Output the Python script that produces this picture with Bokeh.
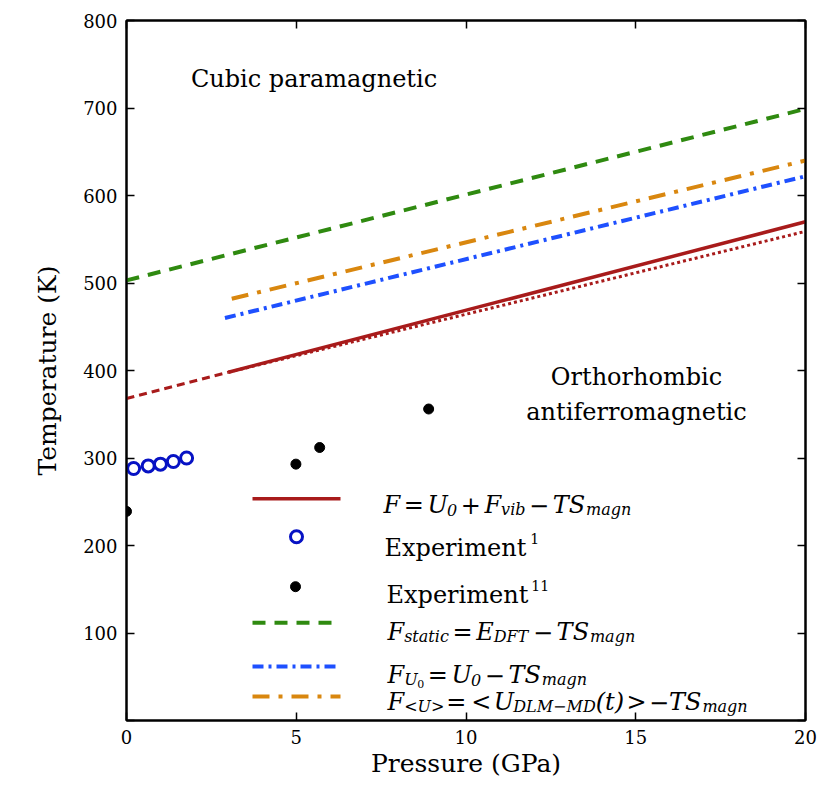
from bokeh.plotting import figure
from bokeh.models import LinearAxis, FixedTicker
from bokeh.core.properties import value
from bokeh.embed import file_html
from bokeh.resources import INLINE

# ---------------- data ----------------
x_ticks = [0, 5, 10, 15, 20]
y_ticks = [0, 100, 200, 300, 400, 500, 600, 700, 800]

# F = U0 + Fvib - TSmagn (dashed extrapolation, solid, dotted variant)
F_ext_P = [0.0, 3.0]
F_ext_T = [368, 398]
F_P = [3.0, 20.0]
F_T = [398, 570]
F_dot_P = [3.0, 20.0]
F_dot_T = [398, 559]
# F_static
Fs_P = [0.0, 20.0]
Fs_T = [503, 699]
# F_U0
FU0_P = [2.9, 20.0]
FU0_T = [460, 622]
# F_<U>
FU_P = [3.1, 20.0]
FU_T = [482, 640]
# Experiment 1 (open circles)
exp1_P = [0.21, 0.64, 1.00, 1.38, 1.77]
exp1_T = [288, 291, 293, 296, 300]
# Experiment 11 (filled dots)
exp11_P = [0.0, 4.99, 5.69, 8.90]
exp11_T = [239, 293, 312, 356]

RED = "#a81b1b"
GREEN = "#2f8a10"
BLUE = "#1e50ff"
ORANGE = "#d9870f"
CIRC = "#0712c4"
SERIF = "DejaVu Serif"

p = figure(width=821, height=780, x_range=(0, 20), y_range=(0, 800),
           output_backend="svg", toolbar_location=None,
           min_border_left=126, min_border_right=16,
           min_border_top=20, min_border_bottom=59)
p.xgrid.visible = False
p.ygrid.visible = False
p.outline_line_color = "black"
p.outline_line_width = 2
p.background_fill_color = "white"
p.border_fill_color = "white"

def style_axis(ax, ticks, show_labels=True):
    ax.ticker = FixedTicker(ticks=ticks)
    ax.major_tick_in = 8
    ax.major_tick_out = 0
    ax.minor_tick_in = 0
    ax.minor_tick_out = 0
    ax.axis_line_width = 2
    ax.axis_line_color = "black"
    ax.major_tick_line_width = 1.5
    ax.major_tick_line_color = "black"
    if show_labels:
        ax.major_label_text_font = SERIF
        ax.major_label_text_font_size = "18px"
        ax.major_label_text_color = "black"
    else:
        ax.major_label_overrides = {t: "" for t in ticks}
        ax.major_label_text_font_size = "0px"
        ax.major_label_standoff = 0

xa = p.xaxis[0]
style_axis(xa, x_ticks)
xa.major_label_standoff = 9
xa.axis_label = "Pressure (GPa)"
xa.axis_label_text_font = SERIF
xa.axis_label_text_font_size = "25px"
xa.axis_label_text_font_style = "normal"
xa.axis_label_text_color = "black"
xa.axis_label_standoff = 2

ya = p.yaxis[0]
style_axis(ya, y_ticks)
ya.major_label_overrides = {0: ""}
ya.major_label_standoff = 9
ya.axis_label = "Temperature (K)"
ya.axis_label_text_font = SERIF
ya.axis_label_text_font_size = "25px"
ya.axis_label_text_font_style = "normal"
ya.axis_label_text_color = "black"
ya.axis_label_standoff = 18

top = LinearAxis()
style_axis(top, x_ticks, show_labels=False)
p.add_layout(top, "above")
right = LinearAxis()
style_axis(right, y_ticks, show_labels=False)
p.add_layout(right, "right")

# ---------------- data lines / points ----------------
p.line(F_ext_P, F_ext_T, line_color=RED, line_width=3, line_dash="8 5")
p.line(F_dot_P, F_dot_T, line_color=RED, line_width=3, line_dash="3 3")
p.line(F_P, F_T, line_color=RED, line_width=3.5)
p.line(Fs_P, Fs_T, line_color=GREEN, line_width=4, line_dash="13 9")
p.line(FU0_P, FU0_T, line_color=BLUE, line_width=4, line_dash="11 5 3 5")
p.line(FU_P, FU_T, line_color=ORANGE, line_width=4, line_dash="17 9 4 9")
p.scatter(exp1_P, exp1_T, marker="circle", size=12, fill_color=None,
          line_color=CIRC, line_width=3)
p.scatter(exp11_P, exp11_T, marker="circle", size=10, fill_color="black",
          line_color="black")

# ---------------- annotations (layout in reference pixels) ----------------
FX0, FX1, FY0, FY1 = 126.0, 805.0, 20.0, 721.0
def dx(px):
    return (px - FX0) / (FX1 - FX0) * 20.0
def dy(py):
    return (FY1 - py) / (FY1 - FY0) * 800.0

def put(items, size, style="normal", align="left"):
    p.text(x=[dx(i[1]) for i in items], y=[dy(i[2]) for i in items],
           text=[i[0] for i in items], text_font=value(SERIF),
           text_font_size=size, text_font_style=style, text_color="black",
           text_align=align, text_baseline="alphabetic")

put([("Cubic paramagnetic", 313.5, 79)], "24px", align="center")
put([("Orthorhombic", 636, 377), ("antiferromagnetic", 636, 412)], "24px", align="center")

# legend keys
LX0, LX1 = 252, 340
p.line([dx(LX0), dx(LX1)], [dy(499)] * 2, line_color=RED, line_width=3.5)
p.scatter([dx(296)], [dy(537)], marker="circle", size=12, fill_color=None,
          line_color=CIRC, line_width=3)
p.scatter([dx(295)], [dy(587)], marker="circle", size=10, fill_color="black",
          line_color="black")
p.line([dx(LX0), dx(LX1)], [dy(623)] * 2, line_color=GREEN, line_width=4, line_dash="13 9")
p.line([dx(LX0), dx(LX1)], [dy(667)] * 2, line_color=BLUE, line_width=4, line_dash="11 5 3 5")
p.line([dx(LX0), dx(LX1)], [dy(697)] * 2, line_color=ORANGE, line_width=4, line_dash="17 9 4 9")

# ---- simple math typesetting for the legend labels ----
W = {"A": .722, "D": .83, "E": .73, "F": .694, "L": .664, "M": .995, "S": .685,
     "T": .703, "U": .812, "a": .596, "b": .64, "c": .56, "g": .64, "i": .32,
     "m": .948, "n": .644, "s": .513, "t": .402, "v": .565, "(": .39, ")": .39,
     "+": .838, "=": .838, "<": .838, ">": .838, "\u2212": .838, "0": .636,
     "1": .636, "x": .645, "p": .64, "e": .592, "r": .478, " ": .318}
SIZES = {"m": 24, "o": 24, "s": 16, "ss": 11}
DROP = {"m": 0, "o": 0, "s": 5, "ss": 9}

def width(txt, size):
    return sum(W.get(c, 0.6) for c in txt) * size

pieces = {"m": [], "o": [], "s": [], "ss": []}
def typeset(x0, base, tokens, opgap=0.15):
    x = x0
    for txt, kind in tokens:
        size = SIZES[kind]
        if kind == "o":
            x += opgap * size
        pieces[kind].append((txt, x, base + DROP[kind]))
        x += width(txt, size)
        if kind == "o":
            x += opgap * size

typeset(383, 505, [("F", "m"), ("=", "o"), ("U", "m"), ("0", "s"), ("+", "o"),
                   ("F", "m"), ("vib", "s"), ("\u2212", "o"), ("TS", "m"), ("magn", "s")])
typeset(387, 632, [("F", "m"), ("static", "s"), ("=", "o"), ("E", "m"), ("DFT", "s"),
                   ("\u2212", "o"), ("TS", "m"), ("magn", "s")])
typeset(387, 675, [("F", "m"), ("U", "s"), ("0", "ss"), ("=", "o"), ("U", "m"), ("0", "s"),
                   ("\u2212", "o"), ("TS", "m"), ("magn", "s")])
typeset(387, 702, [("F", "m"), ("<U>", "s"), ("=", "o"), ("<", "o"), ("U", "m"),
                   ("DLM\u2212MD", "s"), ("(t)", "m"), (">", "o"), ("\u2212", "m"),
                   ("TS", "m"), ("magn", "s")], opgap=0.1)

put(pieces["m"], "24px", style="italic")
put(pieces["o"], "24px")
put(pieces["s"], "16px", style="italic")
put(pieces["ss"], "11px")

put([("Experiment", 384, 548), ("Experiment", 386, 595)], "24px")
put([("1", 384 + width("Experiment", 24) + 2, 539),
     ("11", 386 + width("Experiment", 24) + 1, 586)], "14px")

open("out.html", "w").write(file_html(p, INLINE))
